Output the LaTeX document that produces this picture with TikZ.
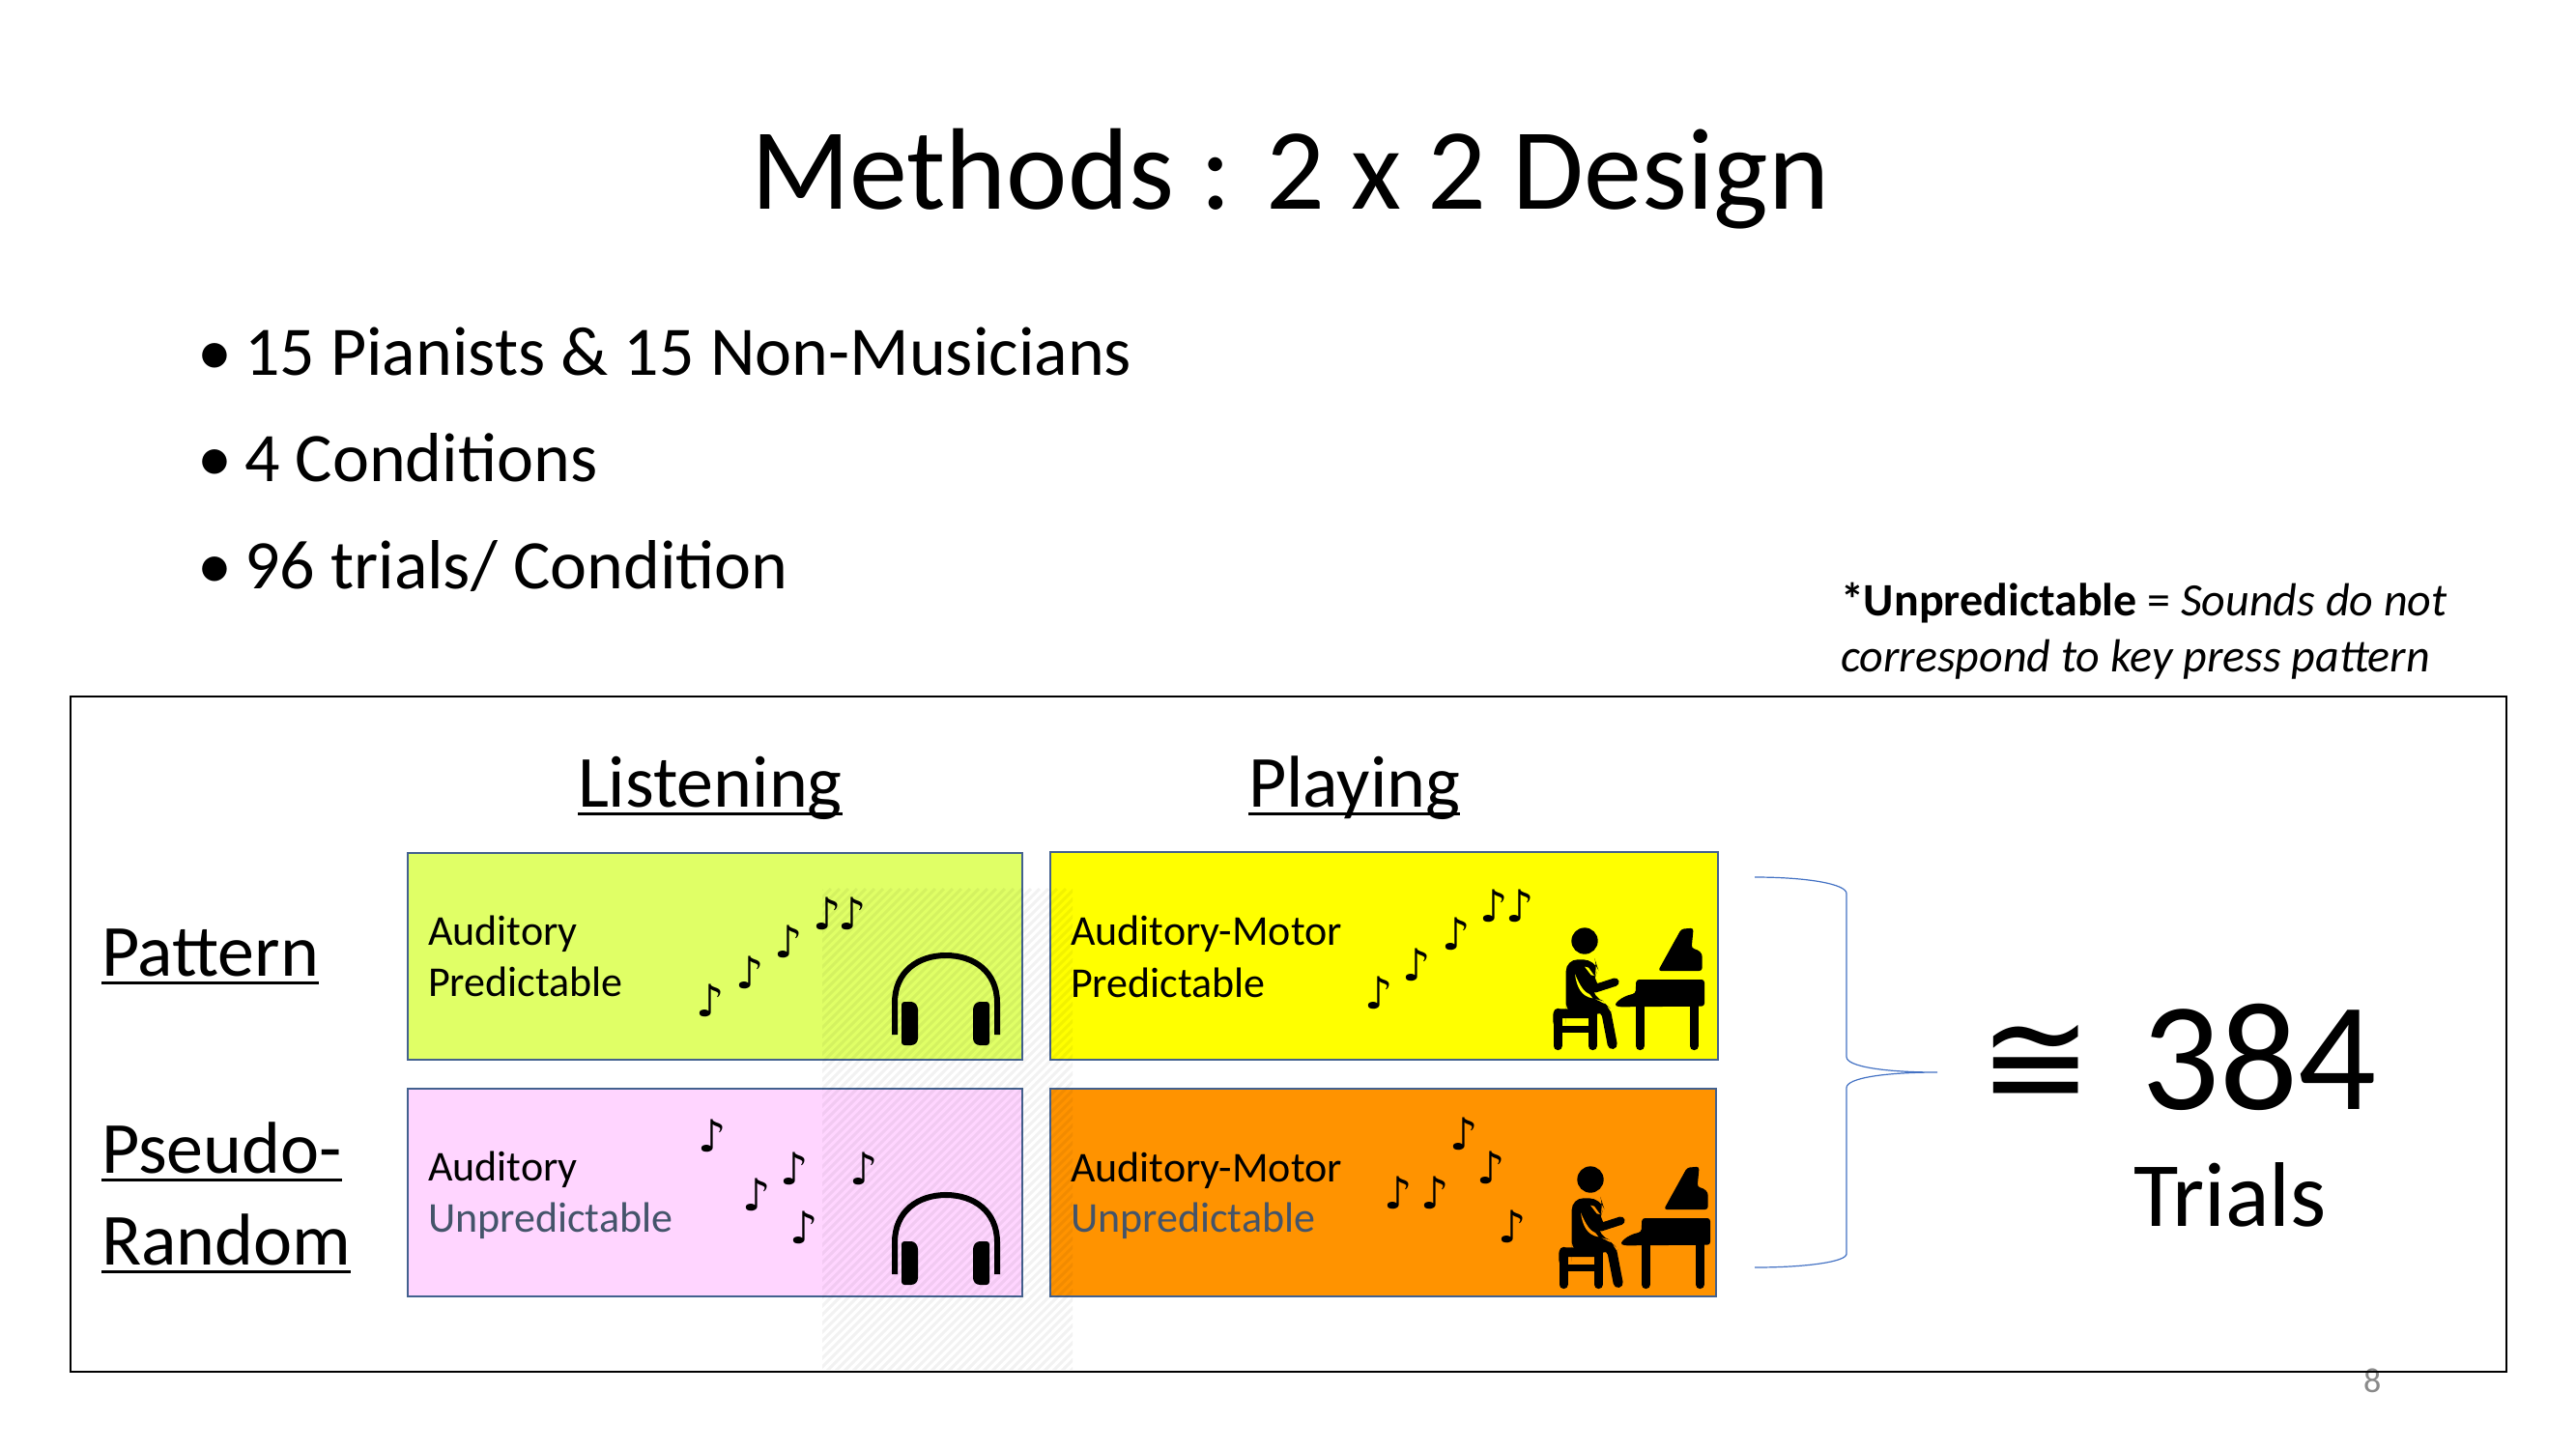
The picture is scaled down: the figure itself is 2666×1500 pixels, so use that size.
\documentclass[tikz,border=0pt]{standalone}
\usepackage{fontspec}
\setmainfont{Carlito}
\newfontfamily\djv{DejaVu Sans}
\definecolor{boxline}{HTML}{43618F}
\definecolor{unpred}{HTML}{44546A}
\definecolor{bracec}{HTML}{4472C4}
\definecolor{fillA}{HTML}{E0FF66}
\definecolor{fillB}{HTML}{FFFF00}
\definecolor{fillC}{HTML}{FFD5FF}
\definecolor{fillD}{HTML}{FF9300}
\newcommand\fsz[1]{\fontsize{#1}{#1}\selectfont}
\newcommand\ulx[1]{\leavevmode\setbox0\hbox{#1}\rlap{\vrule width \wd0 height -6pt depth 9pt}\box0}
\newcommand\dopianist[3]{%
\begin{scope}[shift={(#1,#2)},x=0.3333pt,y=-0.3333pt]
  \fill (180,72) circle[radius=41];
  % body
  \fill[rounded corners=12pt] (122,290) -- (122,130) -- (212,130) -- (222,160) -- (205,200) -- (205,250) -- (235,258) -- (268,290) -- (232,300) -- (122,300) -- cycle;
  \draw[line width=8.5pt,line cap=round,line join=round] (190,165) -- (212,220) -- (274,200);
  % leg
  \draw[line width=10pt,line cap=round,line join=round] (150,280) -- (235,280) -- (248,300) -- (266,393);
  % slits
  \fill[#3] (150,175) .. controls (155,215) and (170,245) .. (205,250) -- (196,238) .. controls (178,232) and (165,210) .. cycle;
  \fill[#3] (180,152) -- (192,155) -- (210,180) -- (200,178) -- cycle;
  % stool
  \fill[rounded corners=6pt] (82,320) -- (82,283) -- (210,283) -- (210,312) -- (82,312) -- cycle;
  \fill (95,335) rectangle (205,357);
  \draw[line width=9pt,line cap=round] (96,295) -- (96,398);
  \draw[line width=9pt,line cap=round] (205,295) -- (205,398);
  % piano
  \fill[rounded corners=3pt] (340,192) -- (552,192) -- (552,275) -- (285,277) .. controls (270,270) and (290,245) .. (338,235) -- cycle;
  \draw[line width=9pt,line cap=round] (352,270) -- (352,398);
  \draw[line width=9pt,line cap=round] (520,270) -- (520,398);
  \fill[rounded corners=3pt] (408,165) -- (480,35) -- (518,32) -- (512,95) .. controls (535,100) and (545,110) .. (545,130) -- (545,165) -- cycle;
\end{scope}}
\newcommand\doheadset[1]{%
\begin{scope}[yshift=-#1pt]
  \draw[line width=6pt] (926,1071) -- (926,1038) .. controls (926,1006) and (950,989) .. (979,989) .. controls (1008,989) and (1032,1006) .. (1032,1038) -- (1032,1071);
  \fill[rounded corners=3pt] (933,1037) -- (946,1037) -- (950,1042) -- (950,1078) -- (946,1082) -- (933,1082) -- cycle;
  \fill[rounded corners=3pt] (1024,1037) -- (1011,1037) -- (1007,1042) -- (1007,1078) -- (1011,1082) -- (1024,1082) -- cycle;
\end{scope}}
\tikzset{
  txt/.style={anchor=base west,inner sep=0pt,outer sep=0pt},
  cond/.style={txt,font=\fsz{44}},
  big/.style={txt,font=\fsz{76}},
  bul/.style={txt,font=\fsz{72}},
  note/.style={inner sep=0pt,font=\djv\fsz{46}},
  cell/.style={draw=boxline,line width=2.5pt}
}
\begin{document}
\begin{tikzpicture}[x=1pt,y=-1pt]
\path[use as bounding box,fill=white] (0,0) rectangle (2666,1500);
\node[txt,font=\fsz{120}] (title) at (777,216) {Methods : 2 x 2 Design};
\node[bul] (b1) at (204,388) {•}; \node[bul] (t1) at (253,388) {15 Pianists \& 15 Non-Musicians};
\node[bul] (b2) at (204,498) {•}; \node[bul] (t2) at (253,498) {4 Conditions};
\node[bul] (b3) at (204,609) {•}; \node[bul] (t3) at (253,609) {96 trials/ Condition};
\node[txt,font=\fsz{48}] (fn1) at (1905,637) {\textbf{*Unpredictable} = \textit{Sounds do not}};
\node[txt,font=\fsz{48}] (fn2) at (1905,695) {\textit{correspond to key press pattern}};
\node[txt,font=\fsz{36},text=black!46] (pg) at (2446,1441) {8};
\draw[line width=2.8pt] (73,721) rectangle (2594,1420);
\node[big] (lis) at (598,835) {\ulx{Listening}};
\node[big] (pla) at (1292,835) {\ulx{Playing}};
\node[big] (pat) at (105,1010) {\ulx{Pattern}};
\node[big] (pse) at (105,1214) {\ulx{Pseudo-}};
\node[big] (ran) at (105,1309) {\ulx{Random}};
\filldraw[cell,fill=fillA] (422,883) rectangle (1058,1097);
\filldraw[cell,fill=fillB] (1087,882) rectangle (1778,1097);
\filldraw[cell,fill=fillC] (422,1127) rectangle (1058,1342);
\filldraw[cell,fill=fillD] (1087,1127) rectangle (1776,1342);
\begin{scope}
  \clip (851,910) rectangle (1110,1417);
  \foreach \k in {0,...,95}
    \draw[black,opacity=.05,line width=3pt] ({851+\k*9},920) -- ({851+\k*9-520},1440);
\end{scope}
\node[cond] (a1) at (443,978) {Auditory};
\node[cond] (a2) at (443,1031) {Predictable};
\node[cond] (c1) at (443,1222) {Auditory};
\node[cond,text=unpred] (c2) at (443,1275) {Unpredictable};
\node[cond] (b1l) at (1108,978) {Auditory-Motor};
\node[cond] (b2l) at (1108,1032) {Predictable};
\node[cond] (d1) at (1108,1223) {Auditory-Motor};
\node[cond,text=unpred] (d2) at (1108,1275) {Unpredictable};
\foreach \n/\x/\y in {a/735/1036,b/776/1007,c/816/975,d/856/946,e/882/946,
  f/737/1176,g/822/1210,h/894/1210,i/783/1237,j/832/1271,
  k/1427/1028,l/1466/999,m/1507/967,n/1546/938,o/1573/938,
  p/1515/1174,q/1543/1209,r/1447/1235,s/1485/1235,t/1565/1270}
  \node[note] (note\n) at (\x,\y) {♪};
\doheadset{0}
\doheadset{248}
\dopianist{1580}{950}{fillB}
\dopianist{1586}{1197}{fillD}
\draw[bracec,line width=1.2pt] (1816,908) .. controls (1870,908) and (1911,915) .. (1911,925) -- (1911,1094) .. controls (1911,1104) and (1950,1110) .. (2005,1110) .. controls (1950,1110) and (1911,1116) .. (1911,1126) -- (1911,1298) .. controls (1911,1306) and (1870,1312) .. (1816,1312);
\node[txt,font=\djv\fsz{140}] (cong) at (2048,1144) {≅};
\node[txt,font=\fsz{160}] (num) at (2216,1148) {384};
\node[txt,font=\fsz{95}] (tri) at (2208,1269) {Trials};
\end{tikzpicture}
\end{document}
